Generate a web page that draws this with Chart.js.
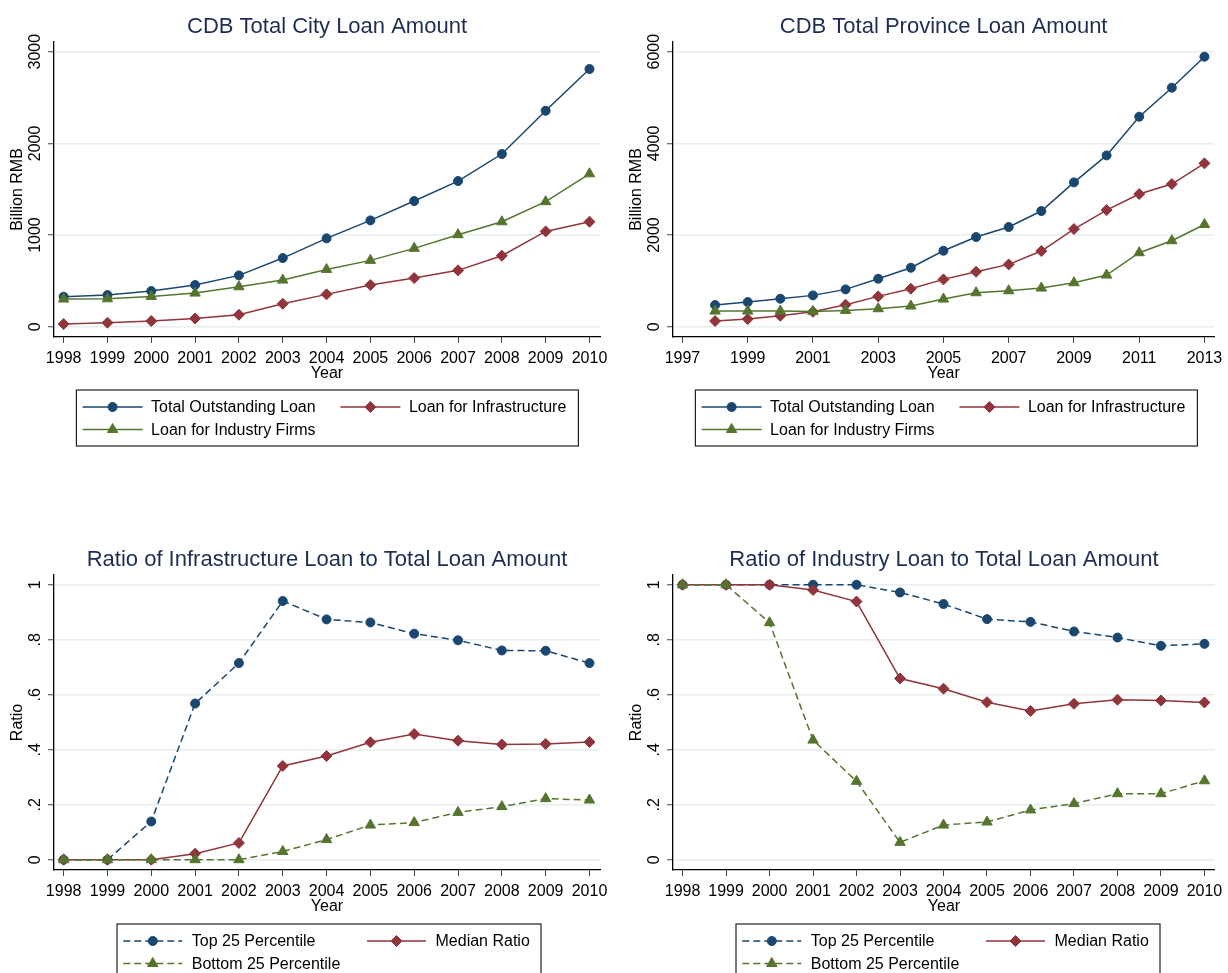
<!DOCTYPE html>
<html>
<head>
<meta charset="utf-8">
<script src="https://cdn.jsdelivr.net/npm/chart.js@4.4.1/dist/chart.umd.min.js"></script>
<style>
html,body{margin:0;padding:0;background:#fff;overflow:hidden;width:1228px;height:973px;}
canvas{position:absolute;display:block;}
</style>
</head>
<body>
<canvas id="c1" width="614" height="533" style="left:0;top:0"></canvas>
<canvas id="c2" width="609" height="533" style="left:619px;top:0"></canvas>
<canvas id="c3" width="614" height="440" style="left:0;top:533px"></canvas>
<canvas id="c4" width="609" height="440" style="left:619px;top:533px"></canvas>
<script>
// ---------- data ----------
const cityYears = [1998,1999,2000,2001,2002,2003,2004,2005,2006,2007,2008,2009,2010];
const cityTotal = [327,345,389,455,560,749,964,1160,1371,1589,1884,2356,2811];
const cityInfra = [29,44,62,91,131,251,353,455,531,615,775,1040,1145];
const cityIndustry = [302,305,331,367,436,509,625,724,855,1004,1145,1364,1668];

const provYears = [1998,1999,2000,2001,2002,2003,2004,2005,2006,2007,2008,2009,2010,2011,2012,2013];
const provTotal = [473,538,611,684,815,1047,1287,1658,1956,2175,2524,3149,3738,4582,5215,5891];
const provInfra = [124,167,240,327,480,662,829,1033,1200,1360,1651,2131,2545,2895,3113,3564];
const provIndustry = [342,342,342,335,356,393,451,604,742,785,844,960,1127,1615,1876,2230];

const ratioYears = [1998,1999,2000,2001,2002,2003,2004,2005,2006,2007,2008,2009,2010];
const infraTop = [0,0,0.139,0.568,0.715,0.941,0.874,0.863,0.822,0.798,0.761,0.760,0.715];
const infraMedian = [0,0,0,0.022,0.061,0.341,0.377,0.427,0.457,0.433,0.419,0.421,0.428];
const infraBottom = [0,0,0,0,0,0.030,0.073,0.126,0.135,0.172,0.193,0.222,0.217];
const indTop = [1,1,1,1,1,0.972,0.930,0.875,0.865,0.830,0.808,0.778,0.785];
const indMedian = [1,1,1,0.981,0.939,0.659,0.622,0.573,0.541,0.567,0.582,0.579,0.572];
const indBottom = [1,1,0.862,0.435,0.285,0.063,0.126,0.137,0.181,0.204,0.240,0.240,0.287];

const cityXTicks = [1998,1999,2000,2001,2002,2003,2004,2005,2006,2007,2008,2009,2010];
const provXTicks = [1997,1999,2001,2003,2005,2007,2009,2011,2013];
const cityYTicks = [0,1000,2000,3000];
const cityYLabels = ['0','1000','2000','3000'];
const provYTicks = [0,2000,4000,6000];
const provYLabels = ['0','2000','4000','6000'];
const ratioYTicks = [0,0.2,0.4,0.6,0.8,1];
const ratioYLabels = ['0','.2','.4','.6','.8','1'];

const loanLabels = ['Total Outstanding Loan','Loan for Infrastructure','Loan for Industry Firms'];
const ratioLabels = ['Top 25 Percentile','Median Ratio','Bottom 25 Percentile'];

// ---------- styling ----------
const FONT = "'Liberation Sans', Arial, Helvetica, sans-serif";
Chart.defaults.font.family = FONT;
const NAVY = '#1a476f', MAROON = '#90353b', GREEN = '#55752f';

function pts(xs, ys) { return xs.map((x, i) => ({x: x, y: ys[i]})); }

function ds(label, xs, ys, color, style, radius, dash, order) {
  return {
    label: label, data: pts(xs, ys), borderColor: color, backgroundColor: color,
    pointBackgroundColor: color, pointBorderColor: color, pointBorderWidth: 1,
    pointStyle: style, pointRadius: radius, pointHoverRadius: radius,
    borderWidth: 1.5, borderDash: dash, tension: 0, order: order, fill: false
  };
}

function drawMarker(ctx, style, r, x, y, color) {
  ctx.save();
  ctx.fillStyle = color; ctx.strokeStyle = color; ctx.lineWidth = 1; ctx.setLineDash([]);
  ctx.beginPath();
  if (style === 'circle') {
    ctx.arc(x, y, r, 0, Math.PI * 2);
  } else if (style === 'rectRot') {
    ctx.moveTo(x, y - r); ctx.lineTo(x + r, y); ctx.lineTo(x, y + r); ctx.lineTo(x - r, y);
    ctx.closePath();
  } else {
    const a = -Math.PI / 2;
    for (let k = 0; k < 3; k++) {
      const t = a + k * 2 * Math.PI / 3;
      const px = x + Math.cos(t) * r, py = y + Math.sin(t) * r;
      if (k === 0) ctx.moveTo(px, py); else ctx.lineTo(px, py);
    }
    ctx.closePath();
  }
  ctx.fill(); ctx.stroke();
  ctx.restore();
}

const stataPlugin = {
  id: 'stata',
  afterDraw(chart, args, opts) {
    const ctx = chart.ctx;
    const ys = chart.scales.y;
    ctx.save();
    // rotated y tick labels
    ctx.fillStyle = '#000';
    ctx.font = '16px ' + FONT;
    ctx.textAlign = 'center';
    ctx.textBaseline = 'alphabetic';
    ys.ticks.forEach((t, i) => {
      const py = ys.getPixelForValue(t.value);
      ctx.save();
      ctx.translate(opts.yLabelX, py);
      ctx.rotate(-Math.PI / 2);
      ctx.fillText(opts.yLabels[i], 0, 5.7);
      ctx.restore();
    });
    // legend box
    const L = opts.legend;
    ctx.strokeStyle = '#222';
    ctx.lineWidth = 1.2;
    ctx.strokeRect(L.x, L.y, L.w, L.h);
    chart.data.datasets.forEach((d, i) => {
      const col = i % 2, row = Math.floor(i / 2);
      const x0 = L.x + L.cols[col];
      const yy = L.y + L.rows[row];
      ctx.save();
      ctx.strokeStyle = d.borderColor;
      ctx.lineWidth = d.borderWidth;
      ctx.setLineDash(d.borderDash || []);
      ctx.beginPath();
      ctx.moveTo(x0, yy);
      ctx.lineTo(x0 + L.lineLen, yy);
      ctx.stroke();
      ctx.restore();
      drawMarker(ctx, d.pointStyle, d.pointRadius, x0 + L.lineLen / 2, yy, d.borderColor);
      ctx.fillStyle = '#000';
      ctx.font = '16px ' + FONT;
      ctx.textAlign = 'left';
      ctx.textBaseline = 'middle';
      ctx.fillText(d.label, x0 + L.textOff, yy + 1);
    });
    ctx.restore();
  }
};

function makeChart(id, cfg) {
  const canvas = document.getElementById(id);
  const W = canvas.width, H = canvas.height;
  return new Chart(canvas, {
    type: 'line',
    data: { datasets: cfg.datasets },
    plugins: [stataPlugin],
    options: {
      responsive: false, animation: false, devicePixelRatio: 1,
      layout: { padding: { left: 0, right: W - 600, top: 0, bottom: H - 387 } },
      plugins: {
        legend: { display: false },
        tooltip: { enabled: false },
        title: {
          display: true, text: cfg.title, color: '#1e2d52', fullSize: false,
          font: { size: 22, weight: 'normal', family: FONT, lineHeight: 1.2 },
          padding: { top: 13.8, bottom: 1.8 }
        },
        stata: { yLabelX: 34, yLabels: cfg.yLabels, legend: cfg.legend }
      },
      scales: {
        x: {
          type: 'linear', min: cfg.xMin, max: cfg.xMax,
          afterBuildTicks: s => { s.ticks = cfg.xTicks.map(v => ({ value: v })); },
          afterFit: s => { s.height = 50; },
          ticks: { autoSkip: false, maxRotation: 0, minRotation: 0, padding: 5.5, color: '#000',
                   font: { size: 16 }, callback: v => String(v) },
          grid: { drawOnChartArea: false, drawTicks: true, tickLength: 6, tickColor: '#444', tickWidth: 1 },
          border: { display: true, color: '#000', width: 1.3 },
          title: { display: true, text: 'Year', color: '#000', font: { size: 16 }, padding: { top: 0, bottom: 4 } }
        },
        y: {
          type: 'linear', min: cfg.yMin, max: cfg.yMax,
          afterBuildTicks: s => { s.ticks = cfg.yTicks.map(v => ({ value: v })); },
          afterFit: s => { s.width = 54; },
          ticks: { display: false },
          grid: { color: '#e6eef0', lineWidth: 1.5, drawTicks: true, tickLength: 6, tickColor: '#444', tickWidth: 1 },
          border: { display: true, color: '#000', width: 1.3 },
          title: { display: true, text: cfg.yTitle, color: '#000', font: { size: 16 }, padding: { top: 8.4, bottom: 0 } }
        }
      }
    }
  });
}

const legendTop = { x: 76.4, y: 390, w: 502, h: 56, cols: [6.2, 264], rows: [17, 39.5], lineLen: 60, textOff: 68.5 };
const legendBottom = { x: 117, y: 391, w: 424, h: 56, cols: [6.3, 250], rows: [17, 39.5], lineLen: 59, textOff: 68.5 };

makeChart('c1', {
  title: 'CDB Total City Loan Amount', yTitle: 'Billion RMB',
  xMin: 1997.78, xMax: 2010.24, xTicks: cityXTicks,
  yMin: -112, yMax: 3106, yTicks: cityYTicks, yLabels: cityYLabels, legend: legendTop,
  datasets: [
    ds(loanLabels[0], cityYears, cityTotal, NAVY, 'circle', 4.5, [], 3),
    ds(loanLabels[1], cityYears, cityInfra, MAROON, 'rectRot', 5.5, [], 2),
    ds(loanLabels[2], cityYears, cityIndustry, GREEN, 'triangle', 6, [], 1)
  ]
});

makeChart('c2', {
  title: 'CDB Total Province Loan Amount', yTitle: 'Billion RMB',
  xMin: 1996.71, xMax: 2013.30, xTicks: provXTicks,
  yMin: -224, yMax: 6212, yTicks: provYTicks, yLabels: provYLabels, legend: legendTop,
  datasets: [
    ds(loanLabels[0], provYears, provTotal, NAVY, 'circle', 4.5, [], 3),
    ds(loanLabels[1], provYears, provInfra, MAROON, 'rectRot', 5.5, [], 2),
    ds(loanLabels[2], provYears, provIndustry, GREEN, 'triangle', 6, [], 1)
  ]
});

makeChart('c3', {
  title: 'Ratio of Infrastructure Loan to Total Loan Amount', yTitle: 'Ratio',
  xMin: 1997.78, xMax: 2010.24, xTicks: cityXTicks,
  yMin: -0.0375, yMax: 1.0355, yTicks: ratioYTicks, yLabels: ratioYLabels, legend: legendBottom,
  datasets: [
    ds(ratioLabels[0], ratioYears, infraTop, NAVY, 'circle', 4.5, [7, 4], 3),
    ds(ratioLabels[1], ratioYears, infraMedian, MAROON, 'rectRot', 5.5, [], 2),
    ds(ratioLabels[2], ratioYears, infraBottom, GREEN, 'triangle', 6, [7, 4], 1)
  ]
});

makeChart('c4', {
  title: 'Ratio of Industry Loan to Total Loan Amount', yTitle: 'Ratio',
  xMin: 1997.78, xMax: 2010.24, xTicks: cityXTicks,
  yMin: -0.0375, yMax: 1.0355, yTicks: ratioYTicks, yLabels: ratioYLabels, legend: legendBottom,
  datasets: [
    ds(ratioLabels[0], ratioYears, indTop, NAVY, 'circle', 4.5, [7, 4], 3),
    ds(ratioLabels[1], ratioYears, indMedian, MAROON, 'rectRot', 5.5, [], 2),
    ds(ratioLabels[2], ratioYears, indBottom, GREEN, 'triangle', 6, [7, 4], 1)
  ]
});
</script>
</body>
</html>
